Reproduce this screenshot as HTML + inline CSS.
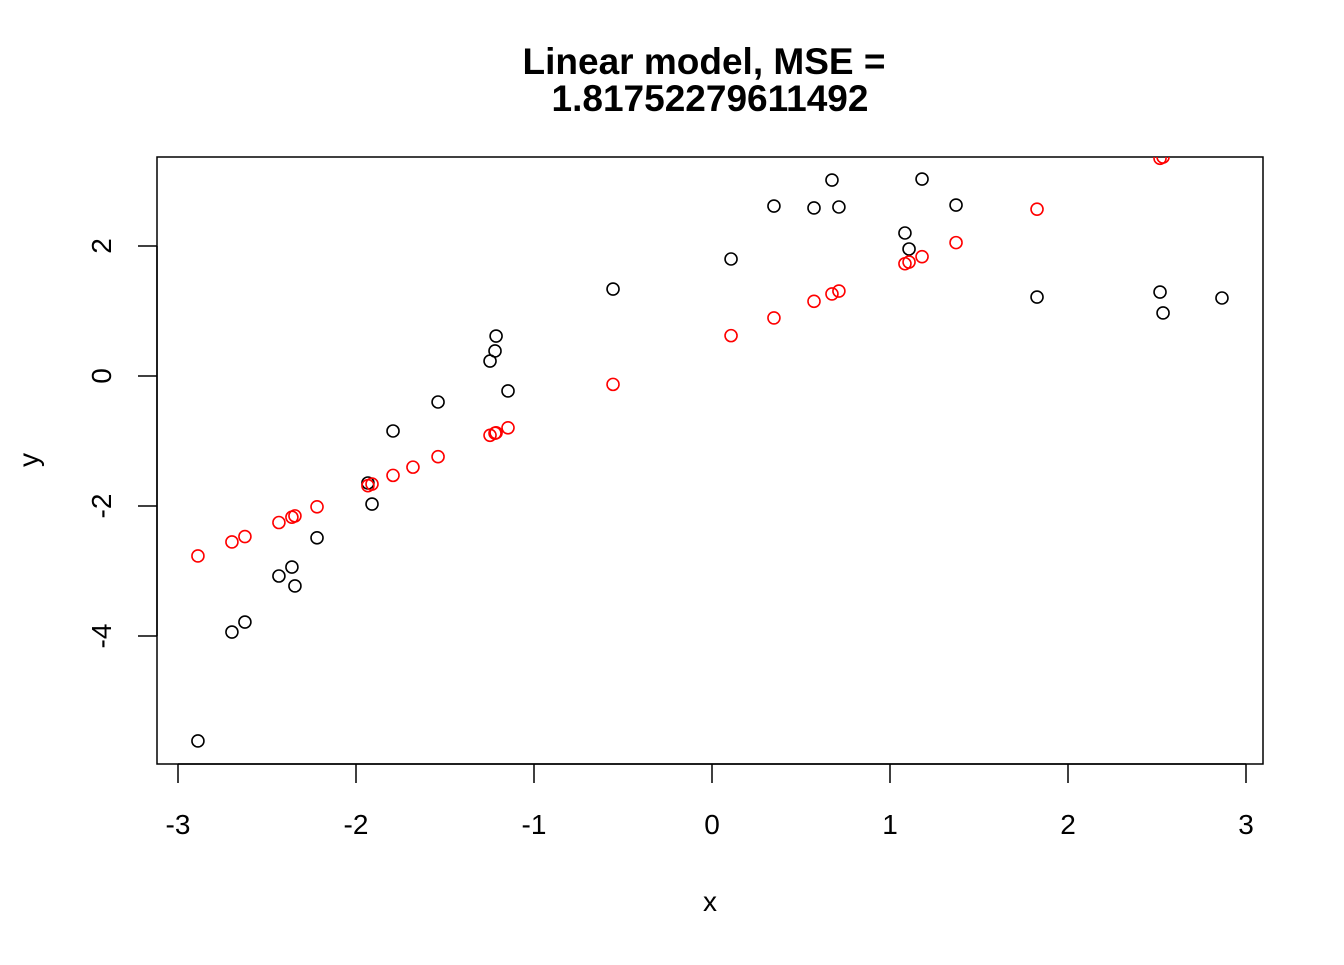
<!DOCTYPE html>
<html><head><meta charset="utf-8"><style>
body{margin:0;background:#fff}
svg text{font-family:"Liberation Sans",Arial,sans-serif}
</style></head><body>
<svg id="chart" width="1344" height="960" xmlns="http://www.w3.org/2000/svg">
<defs><clipPath id="clip"><rect x="157" y="157" width="1106" height="607"/></clipPath></defs>
<text x="704" y="74" text-anchor="middle" font-size="37" font-weight="bold">Linear model, MSE =</text>
<text x="710" y="111" text-anchor="middle" font-size="37" font-weight="bold">1.81752279611492</text>
<rect x="157" y="157" width="1106" height="607" fill="none" stroke="#000" stroke-width="1.5"/>
<g id="xaxis"></g>
<g id="yaxis"></g>
<text x="710" y="911" text-anchor="middle" font-size="28">x</text>
<text transform="translate(38,460) rotate(-90)" text-anchor="middle" font-size="28">y</text>
<g id="points" clip-path="url(#clip)"></g>
</svg>
<script>
const xTicks=[-3,-2,-1,0,1,2,3];
const yTicks=[-4,-2,0,2];
const obsX=[-2.888,-2.697,-2.624,-2.433,-2.36,-2.343,-2.219,-1.933,-1.91,-1.792,-1.539,-1.247,-1.219,-1.213,-1.146,-0.556,0.107,0.348,0.573,0.674,0.713,1.084,1.107,1.18,1.371,1.826,2.517,2.534,2.865];
const obsY=[-5.615,-3.94,-3.785,-3.077,-2.94,-3.23,-2.49,-1.646,-1.97,-0.846,-0.4,0.23,0.385,0.615,-0.23,1.338,1.8,2.615,2.585,3.015,2.6,2.2,1.954,3.03,2.63,1.215,1.292,0.97,1.2];
const predX=[-2.888,-2.697,-2.624,-2.433,-2.36,-2.343,-2.219,-1.933,-1.91,-1.792,-1.68,-1.539,-1.247,-1.219,-1.213,-1.146,-0.556,0.107,0.348,0.573,0.674,0.713,1.084,1.107,1.18,1.371,1.826,2.517,2.534];
const predY=[-2.769,-2.553,-2.470,-2.254,-2.172,-2.152,-2.012,-1.688,-1.662,-1.529,-1.402,-1.242,-0.912,-0.880,-0.873,-0.797,-0.129,0.621,0.894,1.149,1.263,1.307,1.727,1.753,1.836,2.052,2.567,3.349,3.368];
const NS="http://www.w3.org/2000/svg";
const sx=v=>712+178*v, sy=v=>376-65*v;
function mk(t,a,p){const e=document.createElementNS(NS,t);for(const k in a)e.setAttribute(k,a[k]);p.appendChild(e);return e;}
const xa=document.getElementById('xaxis'), ya=document.getElementById('yaxis'), pts=document.getElementById('points');
mk('line',{x1:sx(xTicks[0]),x2:sx(xTicks[xTicks.length-1]),y1:764,y2:764,stroke:'#000','stroke-width':1.5},xa);
xTicks.forEach(t=>{
 const l=mk('line',{x1:sx(t),x2:sx(t),y1:764,y2:783,stroke:'#000','stroke-width':1.5},xa);
 
 
 const tx=mk('text',{x:sx(t),y:834,'text-anchor':'middle','font-size':28},xa);tx.textContent=t;
 
 
});
mk('line',{x1:157,x2:157,y1:sy(yTicks[0]),y2:sy(yTicks[yTicks.length-1]),stroke:'#000','stroke-width':1.5},ya);
yTicks.forEach(t=>{
 const l=mk('line',{x1:138,x2:157,y1:sy(t),y2:sy(t),stroke:'#000','stroke-width':1.5},ya);
 
 
 const tx=mk('text',{transform:`translate(111,${sy(t)}) rotate(-90)`,'text-anchor':'middle','font-size':28},ya);tx.textContent=t;
 
 
});
obsX.forEach((x,i)=>{
 const c=mk('circle',{cx:sx(x),cy:sy(obsY[i]),r:6,fill:'none',stroke:'#000','stroke-width':1.6},pts);
 
 
});
predX.forEach((x,i)=>{
 const c=mk('circle',{cx:sx(x),cy:sy(predY[i]),r:6,fill:'none',stroke:'#f00','stroke-width':1.6},pts);
 
 
});
</script>
</body></html>
